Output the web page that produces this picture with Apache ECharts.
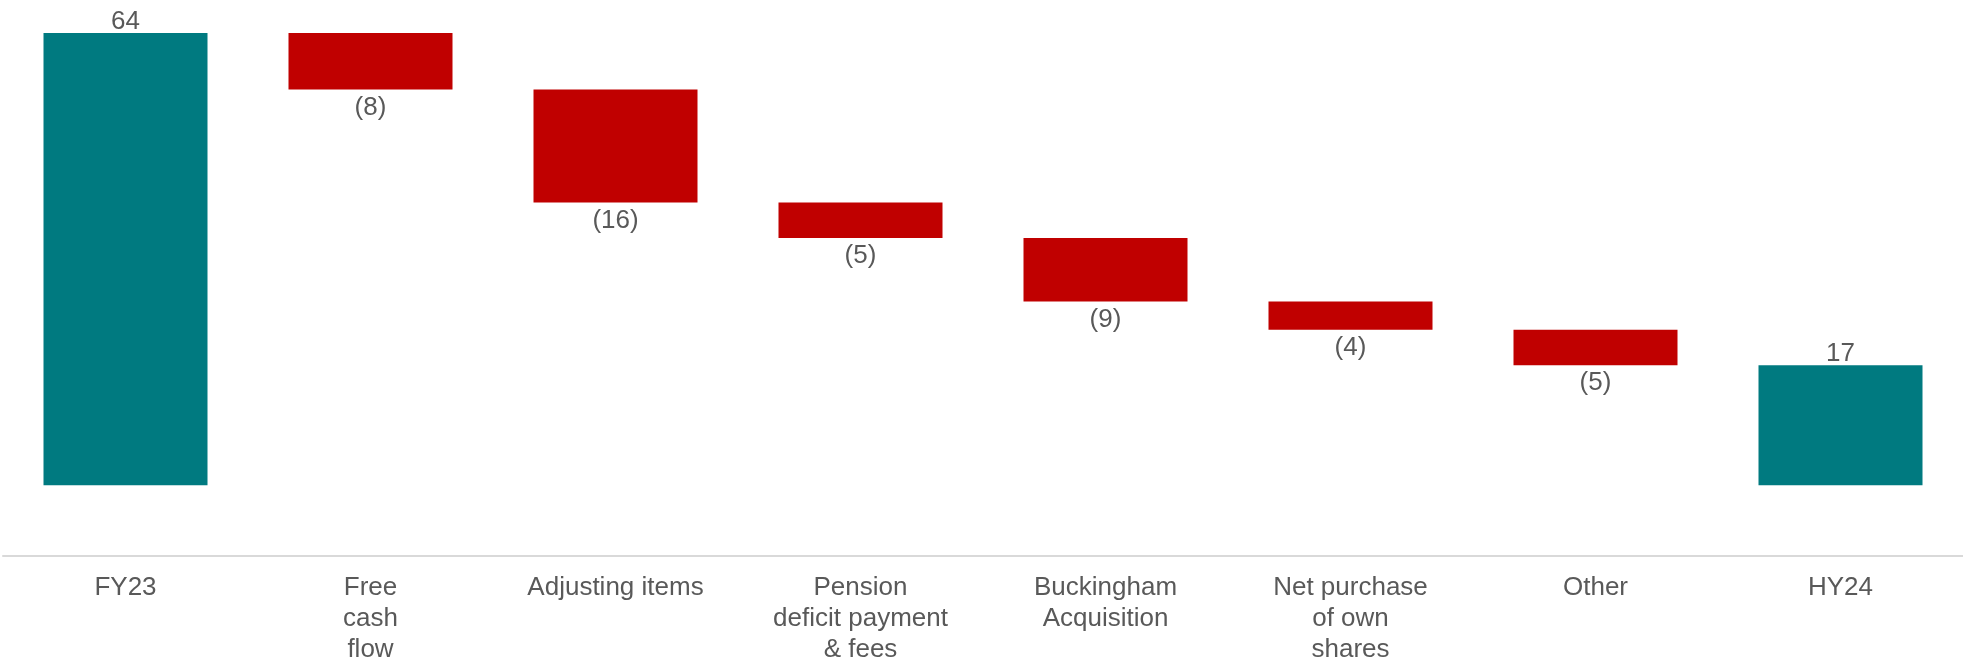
<!DOCTYPE html>
<html>
<head>
<meta charset="utf-8">
<script src="https://cdn.jsdelivr.net/npm/echarts@6/dist/echarts.min.js"></script>
<style>
  html, body { margin: 0; padding: 0; background: #ffffff; }
  #chart { width: 1963px; height: 663px; }
</style>
</head>
<body>
<div id="chart"></div>
<script>
// Net cash bridge, FY23 to HY24
const categories = [
  'FY23',
  'Free\ncash\nflow',
  'Adjusting items',
  'Pension\ndeficit payment\n& fees',
  'Buckingham\nAcquisition',
  'Net purchase\nof own\nshares',
  'Other',
  'HY24'
];
// Totals are drawn from zero; movements float from the running total
const values = [64, -8, -16, -5, -9, -4, -5, 17];
const isTotal = [true, false, false, false, false, false, false, true];

const TEAL = '#007A80';
const RED = '#C00000';
const LABEL = '#595959';
const FONT = '"Liberation Sans", Arial, sans-serif';

// Build the invisible base and visible bar segments of the waterfall
const base = [];
const bars = [];
let running = 0;
values.forEach((v, i) => {
  if (isTotal[i]) {
    base.push(0);
    bars.push({ value: v, itemStyle: { color: TEAL },
      label: { position: 'top', distance: -2 } });
    running = v;
  } else {
    const next = running + v;
    base.push(Math.min(running, next));
    bars.push({ value: Math.abs(v), itemStyle: { color: v < 0 ? RED : TEAL },
      label: { position: 'bottom', distance: 5 } });
    running = next;
  }
});

const chart = echarts.init(document.getElementById('chart'));
chart.setOption({
  animation: false,
  grid: {
    left: 3, right: 0, top: 33, bottom: 107,
    containLabel: false, outerBoundsMode: 'none'
  },
  xAxis: {
    type: 'category',
    data: categories,
    axisLine: { onZero: false, lineStyle: { color: '#D9D9D9', width: 2 } },
    axisTick: { show: false },
    axisLabel: {
      color: LABEL, fontSize: 26, fontFamily: FONT,
      lineHeight: 31, margin: 16, interval: 0
    }
  },
  yAxis: {
    type: 'value', min: -10, max: 64,
    show: false, splitLine: { show: false }
  },
  series: [
    {
      type: 'bar', stack: 'wf', data: base,
      itemStyle: { color: 'transparent' },
      barWidth: 164, silent: true
    },
    {
      type: 'bar', stack: 'wf', data: bars, barWidth: 164,
      label: {
        show: true, color: LABEL, fontSize: 26, fontFamily: FONT,
        formatter: p => values[p.dataIndex] < 0
          ? '(' + Math.abs(values[p.dataIndex]) + ')'
          : String(values[p.dataIndex])
      }
    }
  ]
});
</script>
</body>
</html>
